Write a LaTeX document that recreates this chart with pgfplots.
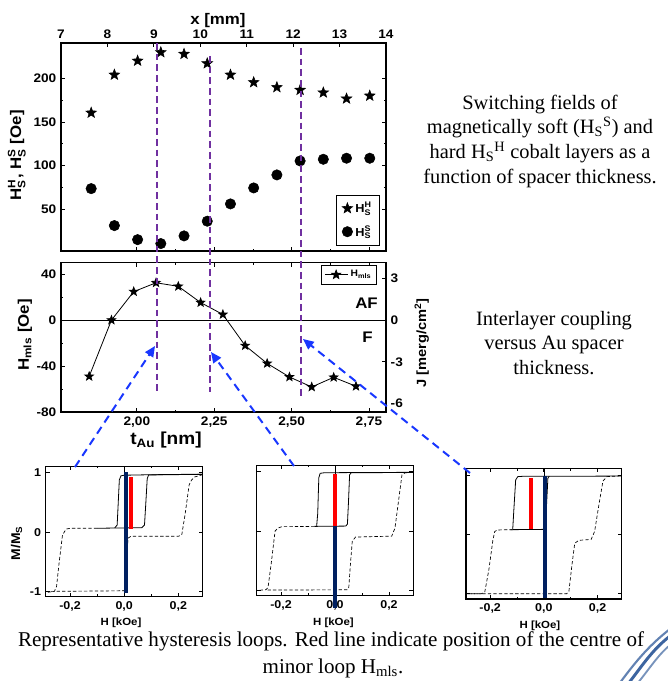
\documentclass[border=0pt]{standalone}
\usepackage{fontspec}
\setmainfont{Liberation Serif}
\setsansfont{Liberation Sans}[FakeStretch=1.1]
\usepackage{amsmath}
\usepackage{pgfplots}
\pgfplotsset{compat=1.18}
\usetikzlibrary{arrows.meta}

\definecolor{violetline}{RGB}{112,48,160}
\definecolor{arrowblue}{RGB}{25,55,255}
\definecolor{navybar}{RGB}{0,32,96}
\definecolor{swoosh}{RGB}{60,100,160}

% filled five-pointed star
\pgfdeclareplotmark{fstar}{%
  \pgfpathmoveto{\pgfpointpolar{90}{\pgfplotmarksize}}%
  \pgfpathlineto{\pgfpointpolar{126}{0.42\pgfplotmarksize}}%
  \pgfpathlineto{\pgfpointpolar{162}{\pgfplotmarksize}}%
  \pgfpathlineto{\pgfpointpolar{198}{0.42\pgfplotmarksize}}%
  \pgfpathlineto{\pgfpointpolar{234}{\pgfplotmarksize}}%
  \pgfpathlineto{\pgfpointpolar{270}{0.42\pgfplotmarksize}}%
  \pgfpathlineto{\pgfpointpolar{306}{\pgfplotmarksize}}%
  \pgfpathlineto{\pgfpointpolar{342}{0.42\pgfplotmarksize}}%
  \pgfpathlineto{\pgfpointpolar{18}{\pgfplotmarksize}}%
  \pgfpathlineto{\pgfpointpolar{54}{0.42\pgfplotmarksize}}%
  \pgfpathclose
  \pgfusepathqfillstroke}

\pgfplotsset{
  panel/.style={scale only axis, anchor=south west, clip=false,
    axis line style={line width=0.8pt}, tick style={line width=0.6pt,black},
    tick align=inside, major tick length=3pt, minor tick length=1.8pt,
    tick label style={font=\sffamily\bfseries\fontsize{9.3}{10}\selectfont},
    label style={font=\sffamily\bfseries\fontsize{11.5}{12}\selectfont, anchor=center}},
  loop/.style={panel, height=98pt, xmin=-0.29, xmax=0.29, ymin=-1.09, ymax=1.115,
    xtick={-0.2,0,0.2}, xticklabels={-0{,}2,0{,}0,0{,}2}, minor x tick num=1,
    ytick={-1,0,1},
    tick label style={font=\sffamily\bfseries\fontsize{8.5}{9.5}\selectfont},
    xlabel={H [kOe]},
    xlabel style={font=\sffamily\bfseries\fontsize{7.8}{9}\selectfont}},
  solidloop/.style={black, line width=0.6pt},
  dashloop/.style={black, line width=0.5pt, dash pattern=on 2.5pt off 1.6pt},
}

\begin{document}
\begin{tikzpicture}
\path[use as bounding box] (0,0) rectangle (500.25pt,-510.75pt);

% ---------- top: switching fields ----------
\begin{axis}[panel, at={(45.75pt,-188.25pt)}, width=243.75pt, height=156pt,
  xmin=7, xmax=14, ymin=2.3, ymax=240.4,
  xtick={7,...,14}, xticklabels={7,8,9,10,11,12,13,14},
  xtick pos=right, xticklabel pos=right,
  ytick={50,100,150,200}, yticklabels={50,100,150,200}, minor y tick num=1,
  xlabel={x [mm]}, xlabel style={at={(rel axis cs:0.483,1.11)}},
  ylabel={H$^{\text{H}}_{\text{S}}$, H$^{\text{S}}_{\text{S}}$ [Oe]},
  ylabel style={at={(rel axis cs:-0.136,0.46)}},
  legend style={at={(0.9815,0.269)}, anchor=north east, draw=black,
    font=\sffamily\bfseries\fontsize{8.7}{9}\selectfont, row sep=4pt,
    inner xsep=4pt, inner ysep=3pt},
  legend cell align=left]
\addplot[only marks, mark=fstar, mark size=4.2pt, mark options={fill=black}]
  coordinates {(7.65,160.5) (8.15,204) (8.65,220) (9.15,229.7) (9.65,227.8)
  (10.15,217) (10.65,204) (11.15,195.4) (11.65,189.7) (12.15,186.6)
  (12.65,183.6) (13.15,176.7) (13.65,180)};
\addlegendentry{H$^{\text{H}}_{\text{S}}$}
\addplot[only marks, mark=*, mark size=3.9pt, mark options={fill=black}]
  coordinates {(7.65,73.7) (8.15,31.4) (8.65,15.3) (9.15,10.8) (9.65,19.6)
  (10.15,36.4) (10.65,56.2) (11.15,74.5) (11.65,89.4) (12.15,105.4)
  (12.65,107.3) (13.15,108.5) (13.65,108.5)};
\addlegendentry{H$^{\text{S}}_{\text{S}}$}
\end{axis}
% bottom ticks of the top panel follow the t_Au scale
\begin{axis}[panel, at={(45.75pt,-188.25pt)}, width=243.75pt, height=156pt,
  xmin=1.755, xmax=2.805, ymin=0, ymax=1, ytick=\empty,
  xtick={2,2.25,2.5,2.75}, xticklabels={}, minor x tick num=1,
  xtick pos=left, axis line style={draw=none}]
\addplot[draw=none] coordinates {(2,0.5)};
\end{axis}

% ---------- middle: interlayer coupling ----------
\begin{axis}[panel, at={(45.75pt,-309pt)}, width=243.75pt, height=112pt,
  xmin=1.755, xmax=2.805, ymin=-80, ymax=50,
  xtick={2,2.25,2.5,2.75}, xticklabels={2{,}00,2{,}25,2{,}50,2{,}75},
  minor x tick num=1,
  ytick={-80,-40,0,40}, yticklabels={-80,-40,0,40}, minor y tick num=1,
  ytick pos=left,
  xlabel={t$_{\text{Au}}$ [nm]}, xlabel style={at={(rel axis cs:0.323,-0.19)},
    font=\sffamily\bfseries\fontsize{13}{14}\selectfont},
  ylabel={H$_{\text{mls}}$ [Oe]}, ylabel style={at={(rel axis cs:-0.111,0.516)}},
  legend style={at={(0.972,0.985)}, anchor=north east, draw=black,
    font=\sffamily\bfseries\fontsize{7}{8}\selectfont, inner sep=2pt},
  legend image post style={mark size=3.4pt}]
\draw[line width=0.8pt] (axis cs:1.755,0) -- (axis cs:2.805,0);
\addplot[black, line width=0.6pt, mark=fstar, mark size=3.3pt, mark options={fill=black}]
  coordinates {(1.846,-49) (1.918,0) (1.990,24.8) (2.062,32.5) (2.134,29.4)
  (2.206,15.3) (2.278,4.9) (2.350,-22.2) (2.421,-37.7) (2.493,-49.5)
  (2.565,-58.2) (2.636,-49.8) (2.708,-57.6)};
\addlegendentry{H$_{\text{mls}}$}
\node[font=\sffamily\bfseries\fontsize{11.5}{12}\selectfont] at (axis cs:2.742,14.7) {AF};
\node[font=\sffamily\bfseries\fontsize{11.5}{12}\selectfont] at (axis cs:2.745,-14.7) {F};
\end{axis}
\begin{axis}[panel, at={(45.75pt,-309pt)}, width=243.75pt, height=112pt,
  xmin=1.755, xmax=2.805, ymin=-6.61, ymax=4.13,
  axis y line*=right, axis x line=none, tick align=inside,
  ytick={-6,-3,0,3}, yticklabels={-6,-3,0,3},
  ylabel={J [merg/cm\textsuperscript{2}]},
  ylabel style={at={(rel axis cs:1.11,0.462)}, font=\sffamily\bfseries\fontsize{10}{11}\selectfont}]
\addplot[draw=none] coordinates {(2,0)};
\end{axis}

% ---------- bottom: hysteresis loops ----------
\begin{axis}[loop, at={(34.28pt,-447.53pt)}, width=117.75pt,
  yticklabels={-1,0,1},
  ylabel={M/M$_{\text{S}}$}, ylabel style={at={(rel axis cs:-0.185,0.41)},
    font=\sffamily\bfseries\fontsize{9.5}{10}\selectfont},
  xlabel style={at={(rel axis cs:0.48,-0.2)}}]
\draw[black, line width=0.5pt] (axis cs:0,-1.09) -- (axis cs:0,1.115);
\addplot[dashloop] coordinates {(-0.1,0.065) (-0.2,0.065) (-0.215,0.05) (-0.228,-0.05)
  (-0.24,-0.5) (-0.25,-0.92) (-0.258,-1.0) (-0.29,-1.02)};
\addplot[dashloop] coordinates {(-0.27,-1.0) (0.0,-0.99) (0.004,-0.9) (0.01,-0.3)
  (0.015,-0.1) (0.025,-0.07) (0.2,-0.07) (0.2125,-0.05) (0.225,0.3) (0.24,0.8)
  (0.249,0.88) (0.26,0.93) (0.29,0.97)};
\addplot[solidloop] coordinates {(0.29,0.975) (0.09,0.965) (0.085,0.9) (0.08,0.5)
  (0.075,0.12) (0.065,0.075) (-0.1,0.065)};
\addplot[solidloop] coordinates {(-0.035,0.07) (-0.026,0.12) (-0.022,0.5)
  (-0.018,0.88) (-0.012,0.95) (0.0,0.96) (0.09,0.968) (0.29,0.978)};
\addplot[navybar, line width=3pt] coordinates {(0.005,-1.03) (0.005,1.01)};
\addplot[red, line width=3pt] coordinates {(0.026,0.05) (0.026,0.93)};
\end{axis}

\begin{axis}[loop, at={(192.53pt,-446.78pt)}, width=117.45pt,
  yticklabels={}, xlabel style={at={(rel axis cs:0.49,-0.209)}}]
\draw[black, line width=0.5pt] (axis cs:0,-1.09) -- (axis cs:0,1.115);
\addplot[dashloop] coordinates {(-0.076,0.08) (-0.197,0.075) (-0.212,0.05)
  (-0.222,0.0) (-0.235,-0.5) (-0.248,-0.95) (-0.256,-0.99) (-0.29,-1.0)};
\addplot[dashloop] coordinates {(-0.25,-0.995) (0.045,-0.99) (0.051,-0.95)
  (0.058,-0.5) (0.064,-0.17) (0.076,-0.1) (0.21,-0.085) (0.222,0.05)
  (0.235,0.5) (0.248,0.95) (0.26,0.985) (0.29,0.99)};
\addplot[solidloop] coordinates {(0.29,0.99) (0.06,0.985) (0.054,0.95) (0.05,0.5)
  (0.046,0.12) (0.04,0.085) (-0.076,0.08)};
\addplot[solidloop] coordinates {(-0.068,0.085) (-0.064,0.3) (-0.06,0.9)
  (-0.055,0.975) (-0.04,0.985) (0.06,0.988) (0.29,0.992)};
\addplot[navybar, line width=3pt] coordinates {(0.0,-1.29) (0.0,0.084)};
\addplot[red, line width=3pt] coordinates {(0.0,0.084) (0.0,0.963)};
\end{axis}

\begin{axis}[loop, at={(349.5pt,-449.25pt)}, width=116.8pt,
  yticklabels={}, xlabel style={at={(rel axis cs:0.475,-0.205)}}]
\draw[black, line width=0.5pt] (axis cs:0,-1.09) -- (axis cs:0,1.115);
\addplot[dashloop] coordinates {(-0.116,0.08) (-0.173,0.075) (-0.183,0.05)
  (-0.19,-0.1) (-0.205,-0.6) (-0.22,-0.97) (-0.232,-1.0) (-0.29,-1.0)};
\addplot[dashloop] coordinates {(-0.29,-1.0) (0.085,-1.0) (0.093,-0.97)
  (0.105,-0.5) (0.115,-0.15) (0.13,-0.1) (0.176,-0.085) (0.189,0.05)
  (0.205,0.5) (0.22,0.9) (0.235,0.975) (0.29,0.99)};
\addplot[solidloop] coordinates {(-0.125,0.08) (0.0,0.085) (0.005,0.12)
  (0.01,0.5) (0.015,0.95) (0.02,0.98) (0.29,0.985)};
\addplot[solidloop] coordinates {(-0.116,0.085) (-0.112,0.4) (-0.105,0.92)
  (-0.097,0.975) (-0.08,0.98) (0.02,0.982)};
\addplot[navybar, line width=3pt] coordinates {(0.005,-1.08) (0.005,0.985)};
\addplot[red, line width=3pt] coordinates {(-0.049,0.085) (-0.049,0.95)};
\end{axis}

% ---------- annotations in pixel units of the slide ----------
\begin{scope}[x=0.75pt, y=-0.75pt]
\draw[violetline, line width=1.3pt, dash pattern=on 5pt off 3pt] (157,43) -- (157,392);
\draw[violetline, line width=1.3pt, dash pattern=on 5pt off 3pt] (210,56) -- (210,392);
\draw[violetline, line width=1.3pt, dash pattern=on 5pt off 3pt] (301,48) -- (301,398);
\begin{scope}[arrowblue, line width=1.5pt, dash pattern=on 6pt off 4pt,
  -{Triangle[length=8pt,width=7pt]}]
\draw (75,467) -- (155,346);
\draw (294,466) -- (211,352);
\draw (470,473) -- (303,339);
\end{scope}
\node[align=center, font=\fontsize{15.3}{18.5}\selectfont] at (540,141)
  {Switching fields of\\ magnetically soft (H\textsubscript{S}\textsuperscript{S}) and\\
   hard H\textsubscript{S}\textsuperscript{H} cobalt layers as a\\ function of spacer thickness.};
\node[align=center, font=\fontsize{15.3}{18.5}\selectfont] at (554,343)
  {Interlayer coupling\\ versus Au spacer\\ thickness.};
\node[anchor=base, inner sep=0pt, font=\fontsize{15.8}{19}\selectfont] at (331,646)
  {Representative hysteresis loops. Red line indicate position of the centre of};
\node[anchor=base, inner sep=0pt, font=\fontsize{15.8}{19}\selectfont] at (333,673)
  {minor loop H\textsubscript{mls}.};
\draw[swoosh, line width=2.2pt] (628,684) .. controls (642,666) and (652,650) .. (670,636);
\draw[swoosh!70, line width=1.4pt] (637,684) .. controls (650,668) and (658,655) .. (670,645);
\draw[swoosh!80, line width=1.6pt] (619,684) .. controls (634,664) and (647,647) .. (670,629);
\end{scope}
\end{tikzpicture}
\end{document}
